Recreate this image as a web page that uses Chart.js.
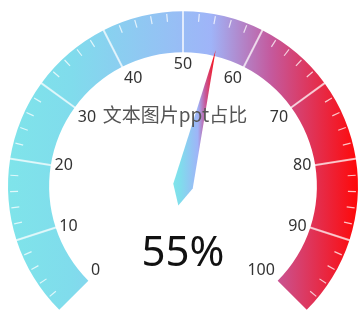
<!DOCTYPE html>
<html>
<head>
<meta charset="utf-8">
<script src="https://cdn.jsdelivr.net/npm/chart.js@4.4.1/dist/chart.umd.min.js"></script>
<style>
  html, body { margin: 0; padding: 0; background: #fff; }
  .chart-wrapper { position: relative; width: 363px; height: 311px; }
</style>
</head>
<body>
<div class="chart-wrapper"><canvas id="gauge"></canvas></div>
<script>
// gauge data
const seriesName = '文本图片ppt占比';
const gaugeValues = [55];
const tickValues = [0, 10, 20, 30, 40, 50, 60, 70, 80, 90, 100];
const tickLabels = ['0', '10', '20', '30', '40', '50', '60', '70', '80', '90', '100'];
const minorPerSplit = 5;

// band colours, left to right
const bandStops = [0, 0.18, 0.58, 0.75, 1];
const bandColors = ['#7fe4ea', '#80dcec', '#9fb4f8', '#c45a9e', '#ff0808'];

function makeGradient(ctx, x0, x1) {
  const g = ctx.createLinearGradient(x0, 0, x1, 0);
  bandStops.forEach((s, i) => g.addColorStop(s, bandColors[i]));
  return g;
}

// band slices, one per split
const bandData = tickValues.slice(1).map((v, i) => v - tickValues[i]);

const gaugeMin = tickValues[0];
const gaugeMax = tickValues[tickValues.length - 1];

const gaugePlugin = {
  id: 'gaugeDecor',
  afterDatasetsDraw(chart) {
    const ctx = chart.ctx;
    const arcs = chart.getDatasetMeta(0).data;
    const first = arcs[0];
    const last = arcs[arcs.length - 1];
    const cx = first.x, cy = first.y;
    const R = first.outerRadius, r = first.innerRadius;
    const a0 = first.startAngle, a1 = last.endAngle;
    const angleOf = v => a0 + (v - gaugeMin) / (gaugeMax - gaugeMin) * (a1 - a0);

    ctx.save();
    // split lines
    ctx.strokeStyle = 'rgba(255,255,255,0.7)';
    ctx.lineWidth = 2;
    tickValues.slice(1, -1).forEach(v => {
      const a = angleOf(v);
      ctx.beginPath();
      ctx.moveTo(cx + Math.cos(a) * (r - 1), cy + Math.sin(a) * (r - 1));
      ctx.lineTo(cx + Math.cos(a) * (R + 1), cy + Math.sin(a) * (R + 1));
      ctx.stroke();
    });

    // minor ticks
    ctx.strokeStyle = 'rgba(255,255,255,0.75)';
    ctx.lineWidth = 1.2;
    tickValues.slice(1).forEach((v, i) => {
      const step = (v - tickValues[i]) / minorPerSplit;
      for (let k = 1; k < minorPerSplit; k++) {
        const a = angleOf(tickValues[i] + k * step);
        ctx.beginPath();
        ctx.moveTo(cx + Math.cos(a) * (R - 10), cy + Math.sin(a) * (R - 10));
        ctx.lineTo(cx + Math.cos(a) * (R - 2), cy + Math.sin(a) * (R - 2));
        ctx.stroke();
      }
    });

    // axis labels
    ctx.fillStyle = '#333';
    ctx.font = '16px "Noto Sans", sans-serif';
    const labelR = R - 45;
    tickValues.forEach((v, i) => {
      const a = angleOf(v);
      const ux = Math.cos(a), uy = Math.sin(a);
      ctx.textAlign = ux < -0.4 ? 'left' : (ux > 0.4 ? 'right' : 'center');
      ctx.textBaseline = uy < -0.4 ? 'top' : (uy > 0.4 ? 'bottom' : 'middle');
      ctx.fillText(tickLabels[i], cx + ux * labelR, cy + uy * labelR);
    });

    // pointer
    const a = angleOf(gaugeValues[0]);
    const w = 10, len = R * 0.8;
    const pts = [
      [cx - Math.cos(a) * w * 2, cy - Math.sin(a) * w * 2],
      [cx + Math.cos(a - Math.PI / 2) * w, cy + Math.sin(a - Math.PI / 2) * w],
      [cx + Math.cos(a) * len, cy + Math.sin(a) * len],
      [cx - Math.cos(a - Math.PI / 2) * w, cy - Math.sin(a - Math.PI / 2) * w]
    ];
    const xs = pts.map(p => p[0]);
    ctx.fillStyle = makeGradient(ctx, Math.min(...xs), Math.max(...xs));
    ctx.beginPath();
    ctx.moveTo(pts[0][0], pts[0][1]);
    pts.slice(1).forEach(p => ctx.lineTo(p[0], p[1]));
    ctx.closePath();
    ctx.fill();

    // title, drawn over the pointer
    ctx.fillStyle = '#555';
    ctx.font = '19px "Noto Sans CJK SC", sans-serif';
    ctx.textAlign = 'center';
    ctx.textBaseline = 'middle';
    ctx.fillText(seriesName, cx - 8, cy - R * 0.41);

    // value
    ctx.fillStyle = '#111';
    ctx.font = '42px "Noto Sans", sans-serif';
    ctx.textAlign = 'center';
    ctx.textBaseline = 'middle';
    ctx.fillText(gaugeValues[0] + '%', cx, cy + R * 0.39);
    ctx.restore();
  }
};

new Chart(document.getElementById('gauge'), {
  type: 'doughnut',
  data: {
    labels: bandData.map((_, i) => tickLabels[i]),
    datasets: [{
      data: bandData,
      backgroundColor: c => {
        const area = c.chart.chartArea;
        if (!area) return bandColors[2];
        return makeGradient(c.chart.ctx, area.left, area.right);
      },
      borderWidth: 0,
      hoverOffset: 0
    }]
  },
  options: {
    responsive: true,
    maintainAspectRatio: false,
    animation: false,
    events: [],
    rotation: -135,
    circumference: 270,
    cutout: '76.5%',
    layout: { padding: { left: 8, right: 5, top: 11, bottom: 1 } },
    plugins: {
      legend: { display: false },
      tooltip: { enabled: false }
    }
  },
  plugins: [gaugePlugin]
});
</script>
</body>
</html>
